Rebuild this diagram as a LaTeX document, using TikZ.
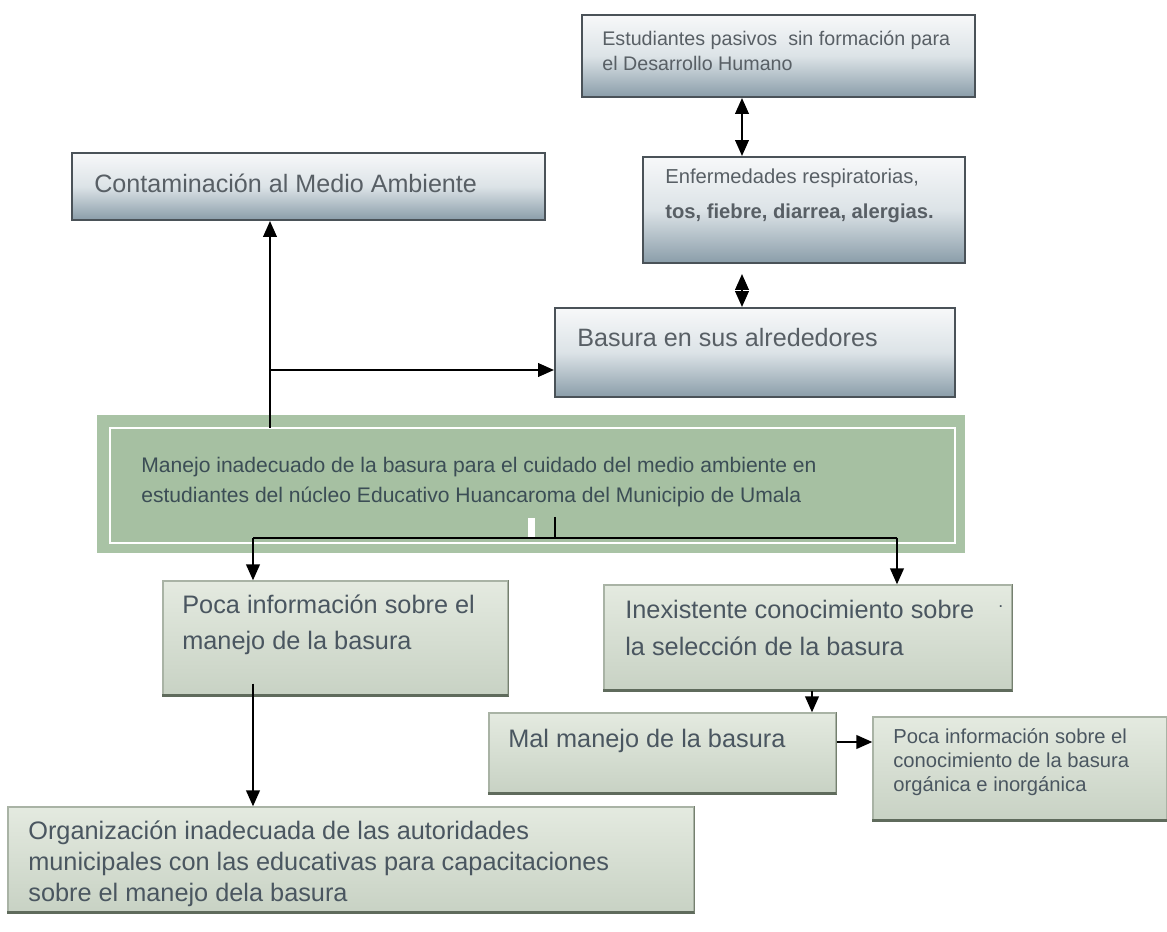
\documentclass[tikz,border=0pt]{standalone}
\usepackage{fontspec}
\setmainfont{Liberation Sans}
\usetikzlibrary{arrows.meta,fit,calc}
\definecolor{txtblue}{HTML}{585F65}
\definecolor{txtgreen}{HTML}{4A5660}
\definecolor{txtE}{HTML}{3B4D55}
\definecolor{bborder}{HTML}{4A5258}
\definecolor{btop}{HTML}{F7F8F9}
\definecolor{bmid}{HTML}{DCE3E7}
\definecolor{bbot}{HTML}{8A9DA9}
\definecolor{gtop}{HTML}{E4EAE0}
\definecolor{gbot}{HTML}{C8D2C4}
\definecolor{gdraw}{HTML}{A9B3A5}
\definecolor{gedgec}{HTML}{5F6B5C}
\definecolor{gsidec}{HTML}{75806F}
\definecolor{eouter}{HTML}{A9C3A5}
\definecolor{einner}{HTML}{A6C0A2}
\tikzset{
  bbox/.style={draw=bborder, line width=1.1pt, top color=btop, bottom color=bbot, middle color=bmid, inner sep=0pt},
  gbox/.style={draw=gdraw, line width=0.7pt, top color=gtop, bottom color=gbot, inner sep=0pt},
  gedge/.style={draw=gedgec, line width=1.6pt},
  gside/.style={draw=gsidec, line width=0.9pt},
  btxt/.style={anchor=west, align=left, inner sep=0pt, text=txtblue},
  gtxt/.style={anchor=west, align=left, inner sep=0pt, text=txtgreen, font=\fontsize{14.4}{20.5}\selectfont},
  conn/.style={draw=black, line width=1.35pt},
  arr/.style={conn, -{Triangle[length=0.32cm,width=0.27cm]}},
  dblarr/.style={conn, {Triangle[length=0.32cm,width=0.27cm]}-{Triangle[length=0.32cm,width=0.27cm]}}
}
\begin{document}
\begin{tikzpicture}[x=0.02cm,y=-0.02cm]
\fill[white] (0,0) rectangle (1167,932);
\useasboundingbox (0,0) rectangle (1167,932);

% top blue boxes
\node[bbox, fit={(582,15) (975,97)}] (A) {};
\node[btxt, font=\fontsize{11.2}{14.2}\selectfont] (At) at (602,51) {Estudiantes pasivos\ \ sin formación para\\el Desarrollo Humano};

\node[bbox, fit={(72,153) (545,220)}] (B) {};
\node[btxt, font=\fontsize{14.3}{17}\selectfont] (Bt) at (94,183) {Contaminación al Medio Ambiente};

\node[bbox, fit={(643,157) (965,263)}] (C) {};
\node[btxt, font=\fontsize{11.5}{19.9}\selectfont] (Ct) at (665,196) {Enfermedades respiratorias,\\\textbf{tos, fiebre, diarrea, alergias.}};

\node[bbox, fit={(555,308) (955,397)}] (D) {};
\node[btxt, font=\fontsize{14.3}{17}\selectfont] (Dt) at (577,338) {Basura en sus alrededores};

% central green box
\node[fit={(97,415) (965,553)}, inner sep=0pt, fill=eouter] (E) {};
\fill[einner] (110,428) rectangle (955,543);
\draw[white, line width=1.6pt] (110,428) rectangle (955,543);
\node[anchor=west, align=left, inner sep=0pt, text=txtE, font=\fontsize{12}{17}\selectfont] (Et) at (141,482) {Manejo inadecuado de la basura para el cuidado del medio ambiente en\\estudiantes del núcleo Educativo Huancaroma del Municipio de Umala};
\fill[white] (528,518) rectangle (535,537);

% green boxes
\node[gbox, fit={(163,581) (508,695)}] (F) {};
\draw[gedge] (F.south west) -- (F.south east);
\draw[gside] (F.north east) -- (F.south east);
\node[gtxt] (Ft) at (182,625) {Poca información sobre el\\manejo de la basura};

\node[gbox, fit={(8,807) (694,912)}] (G) {};
\draw[gedge] (G.south west) -- (G.south east);
\draw[gside] (G.north east) -- (G.south east);
\node[gtxt, font=\fontsize{14.4}{17.6}\selectfont] (Gt) at (28,864) {Organización inadecuada de las autoridades\\municipales con las educativas para capacitaciones\\sobre el manejo dela basura};

\node[gbox, fit={(604,585) (1012,690)}] (H) {};
\draw[gedge] (H.south west) -- (H.south east);
\draw[gside] (H.north east) -- (H.south east);
\node[gtxt, font=\fontsize{14.4}{21}\selectfont] (Ht) at (625,628) {Inexistente conocimiento sobre\\la selección de la basura};
\node[anchor=west, inner sep=0pt, text=txtgreen, font=\fontsize{10}{12}\selectfont] (Hdot) at (998,607) {.};

\node[gbox, fit={(489,713) (836,793)}] (I) {};
\draw[gedge] (I.south west) -- (I.south east);
\draw[gside] (I.north east) -- (I.south east);
\node[gtxt] (It) at (508,741) {Mal manejo de la basura};

\node[gbox, fit={(873,717) (1167,820)}] (J) {};
\draw[gedge] (J.south west) -- (J.south east);
\node[gtxt, font=\fontsize{11.5}{13.8}\selectfont] (Jt) at (893,762) {Poca información sobre el\\conocimiento de la basura\\orgánica e inorgánica};

% connector coordinates
\coordinate (ax) at (742,0);
\coordinate (vx) at (270,0);
\coordinate (j1) at (270,370);
\coordinate (hb) at (555,517);
\coordinate (hy) at (0,538);
\coordinate (fx) at (253,0);
\coordinate (hx) at (897,0);
\coordinate (ix) at (812,0);
\coordinate (iy) at (0,742);

% connectors
\draw[dblarr] (A.south -| ax) -- (C.north -| ax);
\draw[dblarr, shorten <=0.2cm] (C.south -| ax) -- (D.north -| ax);
\draw[arr] ($(E.north -| vx)+(0,13)$) -- (B.south -| vx);
\draw[arr] (j1) -- (D.west |- j1);
\draw[conn] (hb) -- (hb |- hy);
\draw[conn] (fx |- hy) -- (hx |- hy);
\draw[arr] (fx |- hy) -- (F.north -| fx);
\draw[arr] (hx |- hy) -- (H.north -| hx);
\draw[arr] ($(F.south -| fx)+(0,-12)$) -- (G.north -| fx);
\draw[arr] (H.south -| ix) -- (I.north -| ix);
\draw[arr] (I.east |- iy) -- (J.west |- iy);
\end{tikzpicture}
\end{document}
